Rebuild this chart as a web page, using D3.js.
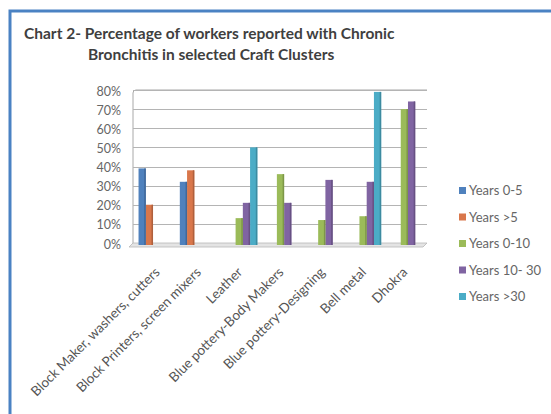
<!DOCTYPE html>
<html>
<head>
<meta charset="utf-8">
<script src="https://cdn.jsdelivr.net/npm/d3@7"></script>
<style>
  html, body { margin: 0; padding: 0; background: #fff; }
  svg { display: block; }
  text { font-family: Lato, "Open Sans", sans-serif; }
</style>
</head>
<body>
<svg id="chart" width="551" height="414"></svg>
<script>
// Craft clusters (x categories)
const categories = [
  "Block Maker, washers, cutters",
  "Block Printers, screen mixers",
  "Leather",
  "Blue pottery-Body Makers",
  "Blue pottery-Designing",
  "Bell metal",
  "Dhokra"
];

// Series names and colours
const seriesNames = ["Years 0-5", "Years >5", "Years 0-10", "Years 10- 30", "Years >30"];
const seriesColors = ["#4f81bd", "#d9774b", "#9bbb59", "#8064a2", "#4bacc6"];

// Percentage of workers per series (null = not surveyed)
const years0to5   = [39, 32, null, null, null, null, null];
const yearsOver5  = [20, 38, null, null, null, null, null];
const years0to10  = [null, null, 13, 36, 12, 14, 70];
const years10to30 = [null, null, 21, 21, 33, 32, 74];
const yearsOver30 = [null, null, 50, null, null, 79, null];
const seriesValues = [years0to5, yearsOver5, years0to10, years10to30, yearsOver30];

const yTicks = [0, 10, 20, 30, 40, 50, 60, 70, 80];

const svg = d3.select("#chart");

// chart frame
svg.append("rect")
  .attr("x", 10).attr("y", 11)
  .attr("width", 600).attr("height", 500)
  .attr("fill", "#fff")
  .attr("stroke", "#4a82c3").attr("stroke-width", 3);

// title
const title = svg.append("text")
  .attr("fill", "#3f3f3f")
  .attr("font-weight", "bold")
  .attr("font-size", 15.5);
title.append("tspan").attr("x", 24).attr("y", 39)
  .text("Chart 2- Percentage of workers reported with Chronic");
title.append("tspan").attr("x", 88).attr("y", 60)
  .text("Bronchitis in selected Craft Clusters");

const plot = { left: 136, right: 425, top: 90, bottom: 243 };

const x = d3.scaleBand()
  .domain(categories)
  .range([plot.left, plot.right])
  .paddingInner(0).paddingOuter(0);

const xs = d3.scaleBand()
  .domain(d3.range(seriesNames.length))
  .range([0, x.bandwidth()])
  .paddingOuter(0.35).paddingInner(0);

const y = d3.scaleLinear().domain([0, 80]).range([plot.bottom, plot.top]);

// back wall and gridlines
const g = svg.append("g");
g.append("path")
  .attr("d", `M${plot.left - 3},${plot.bottom + 2} V${plot.top + 3} Q${plot.left - 3},${plot.top} ${plot.left},${plot.top} H${plot.right + 2}`)
  .attr("fill", "none").attr("stroke", "#a8a8a8").attr("stroke-width", 1);

g.selectAll("line.grid")
  .data(yTicks.slice(1))
  .join("line")
  .attr("class", "grid")
  .attr("x1", plot.left - 3).attr("x2", plot.right + 2)
  .attr("y1", d => Math.round(y(d)) + 0.5)
  .attr("y2", d => Math.round(y(d)) + 0.5)
  .attr("stroke", "#b4b4b4").attr("stroke-width", 1);

// floor
g.append("path")
  .attr("d", `M${plot.left - 3},${plot.bottom} H${plot.right + 2} L${plot.right - 2},${plot.bottom + 4} H${plot.left - 7} Z`)
  .attr("fill", "#e4e4e4").attr("stroke", "#b8b8b8").attr("stroke-width", 0.8);

// y axis labels
const yAxis = d3.axisLeft(y)
  .tickValues(yTicks)
  .tickFormat(d => d + "%")
  .tickSize(0).tickPadding(0);
svg.append("g")
  .attr("transform", `translate(121,1)`)
  .call(yAxis)
  .call(s => s.select(".domain").remove())
  .call(s => s.selectAll("text")
    .attr("fill", "#666")
    .attr("font-size", 12.5)
    .attr("font-family", "Lato, sans-serif"));

// bars
const bars = [];
seriesValues.forEach((vals, si) => {
  vals.forEach((v, ci) => {
    if (v != null) bars.push({ series: si, cat: categories[ci], value: v });
  });
});

const barG = svg.append("g");
barG.selectAll("rect.bar")
  .data(bars)
  .join("rect")
  .attr("class", "bar")
  .attr("x", d => x(d.cat) + xs(d.series))
  .attr("y", d => y(d.value))
  .attr("width", xs.bandwidth())
  .attr("height", d => plot.bottom + 2 - y(d.value))
  .attr("fill", d => seriesColors[d.series]);

// darker right face for a slight depth
barG.selectAll("rect.side")
  .data(bars)
  .join("rect")
  .attr("class", "side")
  .attr("x", d => x(d.cat) + xs(d.series) + xs.bandwidth() - 1.5)
  .attr("y", d => y(d.value))
  .attr("width", 1.5)
  .attr("height", d => plot.bottom + 2 - y(d.value))
  .attr("fill", d => d3.color(seriesColors[d.series]).darker(0.6));

// x axis labels, rotated
svg.append("g")
  .selectAll("text")
  .data(categories)
  .join("text")
  .attr("transform", d => `translate(${x(d) + x.bandwidth() / 2 + 4},${plot.bottom + 30}) rotate(-45)`)
  .attr("text-anchor", "end")
  .attr("font-size", 13.5)
  .attr("fill", "#555")
  .text(d => d);

// legend
const legend = svg.append("g")
  .selectAll("g")
  .data(seriesNames)
  .join("g")
  .attr("transform", (d, i) => `translate(459,${191 + i * 26.5})`);
legend.append("rect")
  .attr("x", 0).attr("y", -4)
  .attr("width", 7).attr("height", 7)
  .attr("fill", (d, i) => seriesColors[i]);
legend.append("text")
  .attr("x", 10).attr("y", 4)
  .attr("font-size", 13)
  .attr("fill", "#666")
  .text(d => d);
</script>
</body>
</html>
